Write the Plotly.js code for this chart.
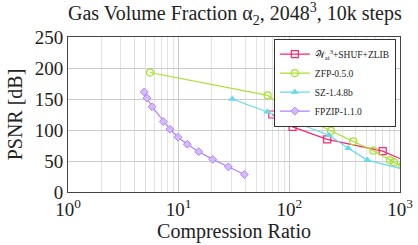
<!DOCTYPE html>
<html>
<head>
<meta charset="utf-8">
<script src="https://cdn.plot.ly/plotly-3.0.1.min.js"></script>
<style>html,body{margin:0;padding:0;background:#fff}#chart{width:418px;height:245px}</style>
</head>
<body>
<div id="chart"></div>
<script>
// Data
const waiCR   = [70.2, 107, 220, 698, 1500];
const waiPSNR = [125, 105, 85, 66, 40];

const zfpCR   = [5.51, 63.7, 90.0, 132, 238, 378, 574, 812, 883, 1050];
const zfpPSNR = [192.7, 155.8, 137, 120.8, 98.5, 81.8, 66.6, 51.5, 47.7, 42];

const szCR    = [30.5, 63.2, 122, 228, 341, 506, 1230];
const szPSNR  = [150, 129.4, 110, 91.6, 70.5, 51.5, 34];

const fpzipCR   = [4.89, 5.17, 5.74, 7.26, 8.35, 9.86, 11.97, 15.2, 20.3, 28.1, 39.2];
const fpzipPSNR = [161.4, 151.6, 137.5, 113.6, 101.3, 88.3, 77, 65, 52.6, 40.6, 28.2];

const seriesNames = ['𝒲<sub>ai</sub><sup>3</sup>+SHUF+ZLIB', 'ZFP-0.5.0', 'SZ-1.4.8b', 'FPZIP-1.1.0'];
const xTickVals = [1, 10, 100, 1000];
const xTickText = ['10<sup>0</sup>', '10<sup>1</sup>', '10<sup>2</sup>', '10<sup>3</sup>'];
const yTickVals = [0, 50, 100, 150, 200, 250];

const font = 'Liberation Serif, Times New Roman, serif';
const traces = [
  {x: waiCR, y: waiPSNR, name: seriesNames[0], mode: 'lines+markers',
   line: {color: '#f92672', width: 1.2},
   marker: {symbol: 'square-open', size: 7, color: '#f92672', line: {width: 1.2}}},
  {x: zfpCR, y: zfpPSNR, name: seriesNames[1], mode: 'lines+markers',
   line: {color: '#a6e22e', width: 1.2},
   marker: {symbol: 'circle-open', size: 7, color: '#a6e22e', line: {width: 1.2}}},
  {x: szCR, y: szPSNR, name: seriesNames[2], mode: 'lines+markers',
   line: {color: '#66d9ef', width: 1.2},
   marker: {symbol: 'triangle-up', size: 7, color: '#66d9ef'}},
  {x: fpzipCR, y: fpzipPSNR, name: seriesNames[3], mode: 'lines+markers',
   line: {color: '#ae81ff', width: 1.2},
   marker: {symbol: 'diamond', size: 6, color: '#d4bcff', line: {color: '#ae81ff', width: 1}}}
];

const layout = {
  width: 418, height: 245,
  margin: {l: 68, r: 18, t: 37, b: 53, pad: 0},
  paper_bgcolor: '#fff', plot_bgcolor: '#fff',
  font: {family: font, color: '#222'},
  title: {text: 'Gas Volume Fraction α<sub>2</sub>, 2048<sup>3</sup>, 10k steps',
          font: {family: font, size: 20, color: '#222'}, x: 0.562, xanchor: 'center', y: 0.945, yanchor: 'middle'},
  xaxis: {type: 'log', range: [0, 3], tickmode: 'array', tickvals: xTickVals, ticktext: xTickText,
          tickfont: {size: 19, family: font}, showgrid: true, gridcolor: '#cccccc', gridwidth: 1,
          minor: {dtick: 'D1', showgrid: true, gridcolor: '#e3e3e3', gridwidth: 1},
          showline: true, linecolor: '#444', linewidth: 1, mirror: true, zeroline: false,
          ticks: '', title: {text: 'Compression Ratio', font: {size: 20, family: font}, standoff: 2}},
  yaxis: {range: [0, 250], tickmode: 'array', tickvals: yTickVals,
          tickfont: {size: 19, family: font}, showgrid: true, gridcolor: '#cccccc', gridwidth: 1,
          showline: true, linecolor: '#444', linewidth: 1, mirror: true, zeroline: false,
          ticks: '', ticklen: 0,
          title: {text: 'PSNR [dB]', font: {size: 20, family: font}, standoff: 6}},
  legend: {x: 0.62, y: 0.99, xanchor: 'left', yanchor: 'top', bgcolor: '#fff',
           bordercolor: '#333', borderwidth: 1, font: {size: 9.5, family: font},
           tracegroupgap: 0, itemwidth: 30},
  showlegend: true
};

Plotly.newPlot('chart', traces, layout, {staticPlot: true, displayModeBar: false});
</script>
</body>
</html>
